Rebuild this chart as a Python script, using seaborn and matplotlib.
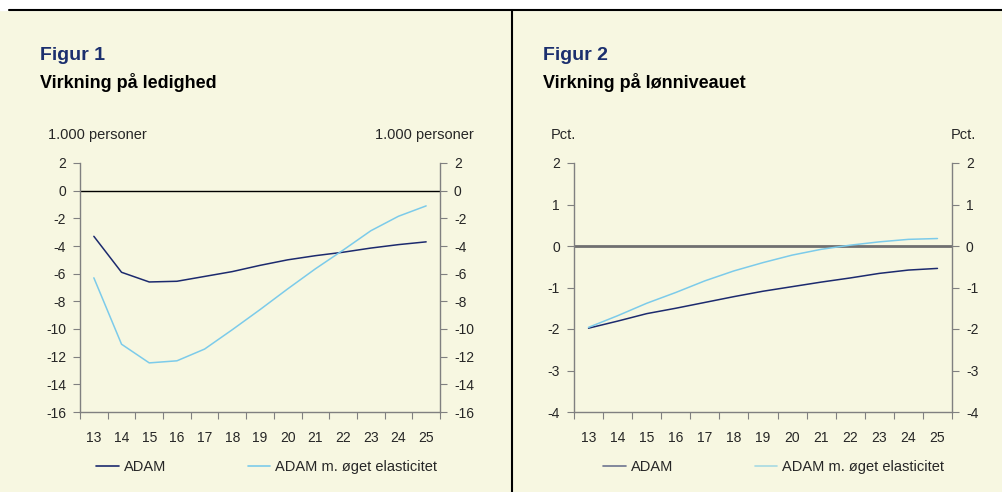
import numpy as np
import pandas as pd
import seaborn as sns
import matplotlib.pyplot as plt
from matplotlib.lines import Line2D

sns.set_style("ticks")
plt.rcParams['font.family'] = ['Liberation Sans', 'DejaVu Sans']

# data
years = ["13", "14", "15", "16", "17", "18", "19", "20", "21", "22", "23", "24", "25"]
ledighed_adam = [-3.3, -5.9, -6.6, -6.55, -6.2, -5.85, -5.4, -5.0, -4.7, -4.45, -4.15, -3.9, -3.7]
ledighed_elast = [-6.3, -11.1, -12.45, -12.3, -11.45, -10.05, -8.6, -7.1, -5.65, -4.3, -2.9, -1.85, -1.1]
loen_adam = [-1.98, -1.81, -1.63, -1.5, -1.36, -1.22, -1.09, -0.98, -0.87, -0.77, -0.66, -0.58, -0.54]
loen_elast = [-1.96, -1.68, -1.38, -1.12, -0.84, -0.6, -0.4, -0.22, -0.08, 0.02, 0.1, 0.16, 0.18]
series_names = ["ADAM", "ADAM m. øget elasticitet"]

NAVY = "#1c2a6e"
LIGHT = "#7ccbea"
BG = "#f7f7e1"
GRAY = "#808080"

W, H = 1002, 492
fig = plt.figure(figsize=(W / 100, H / 100), dpi=100)
fig.patch.set_facecolor(BG)


def fx(px):
    return px / W


def fy(py):
    return 1 - py / H


# white strip on top, frame lines
fig.patches.append(plt.Rectangle((0, fy(10)), 1, 1 - fy(10), transform=fig.transFigure,
                                 color="white", zorder=0))
fig.add_artist(Line2D([fx(9), 1], [fy(10), fy(10)], color="black", lw=1.5))
fig.add_artist(Line2D([fx(512), fx(512)], [0, fy(10)], color="black", lw=1.5))


def panel(x0, x1, a, b, ylim, yticks, zero_color, zero_lw, title_x, fig_no, title,
          unit, unit_left_x, unit_right_x, leg_x, leg_colors):
    ax = fig.add_axes([fx(x0), fy(412), fx(x1) - fx(x0), fy(163) - fy(412)])
    ax.set_facecolor(BG)
    df = pd.DataFrame({
        "x": list(range(len(years))) * 2,
        "v": a + b,
        "serie": [series_names[0]] * len(years) + [series_names[1]] * len(years),
    })
    ax.axhline(0, color=zero_color, lw=zero_lw, zorder=1)
    sns.lineplot(data=df, x="x", y="v", hue="serie", palette=[NAVY, LIGHT],
                 linewidth=1.1, ax=ax, legend=False, zorder=3)
    ax.set_xlim(-0.5, len(years) - 0.5)
    ax.set_ylim(*ylim)
    ax.set_yticks(yticks)
    ax.set_yticklabels([str(t) for t in yticks])
    ax.set_xticks(np.arange(-0.5, len(years), 1.0))
    ax.set_xticklabels([])
    ax.set_xticks(range(len(years)), minor=True)
    ax.set_xticklabels(years, minor=True)
    ax.tick_params(axis="x", which="major", length=5, color=GRAY, direction="out")
    ax.tick_params(axis="x", which="minor", length=0, pad=14, labelsize=10)
    ax.tick_params(axis="y", length=5, color=GRAY, direction="out", labelsize=10,
                   left=True, right=True, labelleft=True, labelright=True, pad=5)
    ax.set_xlabel("")
    ax.set_ylabel("")
    for s in ["left", "right", "bottom"]:
        ax.spines[s].set_visible(True)
        ax.spines[s].set_color(GRAY)
        ax.spines[s].set_linewidth(1.0)
    ax.spines["top"].set_visible(False)

    fig.text(fx(title_x), fy(60), fig_no, fontsize=14, fontweight="bold", color="#1b2f6e",
             va="baseline")
    fig.text(fx(title_x), fy(88), title, fontsize=13, fontweight="bold", color="black",
             va="baseline")
    fig.text(fx(unit_left_x), fy(139), unit, fontsize=10.5, va="baseline")
    fig.text(fx(unit_right_x), fy(139), unit, fontsize=10.5, va="baseline", ha="right")

    handles = [Line2D([], [], color=c, lw=1.2) for c in leg_colors]
    fig.legend(handles, series_names, loc="center left", bbox_to_anchor=(fx(leg_x), fy(467)),
               ncol=2, frameon=False, fontsize=10.5, handlelength=1.55, handletextpad=0.35,
               columnspacing=5.6, borderpad=0, borderaxespad=0)
    return ax


panel(80, 440, ledighed_adam, ledighed_elast, (-16, 2), list(range(-16, 3, 2)),
      "black", 1.0, 40, "Figur 1", "Virkning på ledighed", "1.000 personer", 48, 474,
      96, [NAVY, LIGHT])
panel(574, 952, loen_adam, loen_elast, (-4, 2), list(range(-4, 3)),
      "#707070", 2.0, 543, "Figur 2", "Virkning på lønniveauet", "Pct.", 551, 976,
      603, ["#6e7590", "#a6d9e3"])

fig.savefig("out.png", dpi=100, facecolor=BG)
